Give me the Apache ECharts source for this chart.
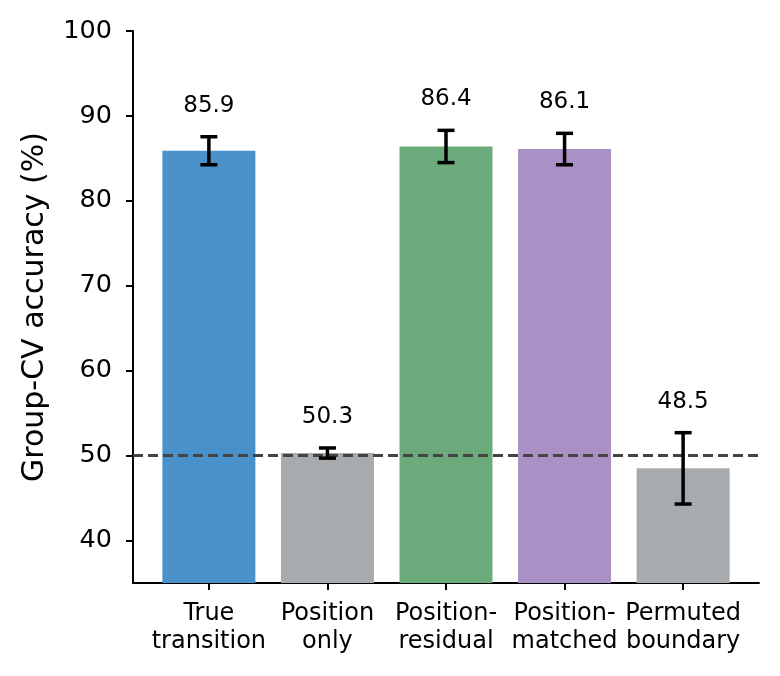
<!DOCTYPE html>
<html>
<head>
<meta charset="utf-8">
<script src="https://cdn.jsdelivr.net/npm/echarts@6/dist/echarts.min.js"></script>
<style>html,body{margin:0;padding:0;background:#fff;}#chart{width:780px;height:676px;}</style>
</head>
<body>
<div id="chart"></div>
<script>
var categories = ['True\ntransition', 'Position\nonly', 'Position-\nresidual', 'Position-\nmatched', 'Permuted\nboundary'];
var means = [85.9, 50.3, 86.4, 86.1, 48.5];
var errors = [1.65, 0.6, 1.9, 1.85, 4.2];
var barColors = ['#4a90c9', '#a7abae', '#6aaa7b', '#a991c6', '#a7abae'];
var chanceLevel = 50;
var yTicks = [40, 50, 60, 70, 80, 90, 100];

var FONT = 'DejaVu Sans';
var idx = categories.map(function (c, i) { return i; });

var chart = echarts.init(document.getElementById('chart'), null, {renderer: 'canvas'});
chart.setOption({
  animation: false,
  backgroundColor: '#ffffff',
  grid: {left: 133, right: 21, top: 31, bottom: 93, containLabel: false},
  xAxis: {
    type: 'value', min: -0.64, max: 4.64,
    axisLine: {show: true, onZero: false, lineStyle: {color: '#000', width: 2}},
    axisTick: {show: true, length: 7, lineStyle: {color: '#000', width: 2}, customValues: idx},
    axisLabel: {show: true, customValues: idx, margin: 17, color: '#000', fontFamily: FONT, fontSize: 24, lineHeight: 28,
      formatter: function (v) { return categories[Math.round(v)]; }},
    splitLine: {show: false}
  },
  yAxis: {
    type: 'value', min: 35, max: 100,
    name: 'Group-CV accuracy (%)', nameLocation: 'middle', nameGap: 83,
    nameTextStyle: {color: '#000', fontFamily: FONT, fontSize: 30},
    axisLine: {show: true, onZero: false, lineStyle: {color: '#000', width: 2}},
    axisTick: {show: true, length: 7, lineStyle: {color: '#000', width: 2}, customValues: yTicks},
    axisLabel: {show: true, customValues: yTicks, margin: 21, color: '#000', fontFamily: FONT, fontSize: 25.5},
    splitLine: {show: false}
  },
  series: [
    {
      type: 'bar', barWidth: 93,
      data: means.map(function (m, i) { return {value: [i, m], itemStyle: {color: barColors[i]}}; }),
      markLine: {
        silent: true, symbol: 'none', label: {show: false},
        lineStyle: {color: '#444', width: 3, type: [10, 5]},
        data: [{yAxis: chanceLevel}]
      },
      z: 2
    },
    {
      type: 'custom', z: 5,
      data: means.map(function (m, i) { return [i, m, errors[i]]; }),
      renderItem: function (params, api) {
        var x = api.value(0), m = api.value(1), e = api.value(2);
        var top = api.coord([x, m + e]);
        var bot = api.coord([x, m - e]);
        var cap = 8.5;
        var st = {stroke: '#000', lineWidth: 3.5};
        return {
          type: 'group',
          children: [
            {type: 'line', shape: {x1: top[0], y1: top[1], x2: bot[0], y2: bot[1]}, style: st},
            {type: 'line', shape: {x1: top[0] - cap, y1: top[1], x2: top[0] + cap, y2: top[1]}, style: st},
            {type: 'line', shape: {x1: bot[0] - cap, y1: bot[1], x2: bot[0] + cap, y2: bot[1]}, style: st},
            {type: 'text', style: {x: top[0], y: top[1] - 31, text: m.toFixed(1), fill: '#000',
              font: '23px "DejaVu Sans"', align: 'center', verticalAlign: 'middle'}}
          ]
        };
      }
    }
  ]
});
</script>
</body>
</html>
